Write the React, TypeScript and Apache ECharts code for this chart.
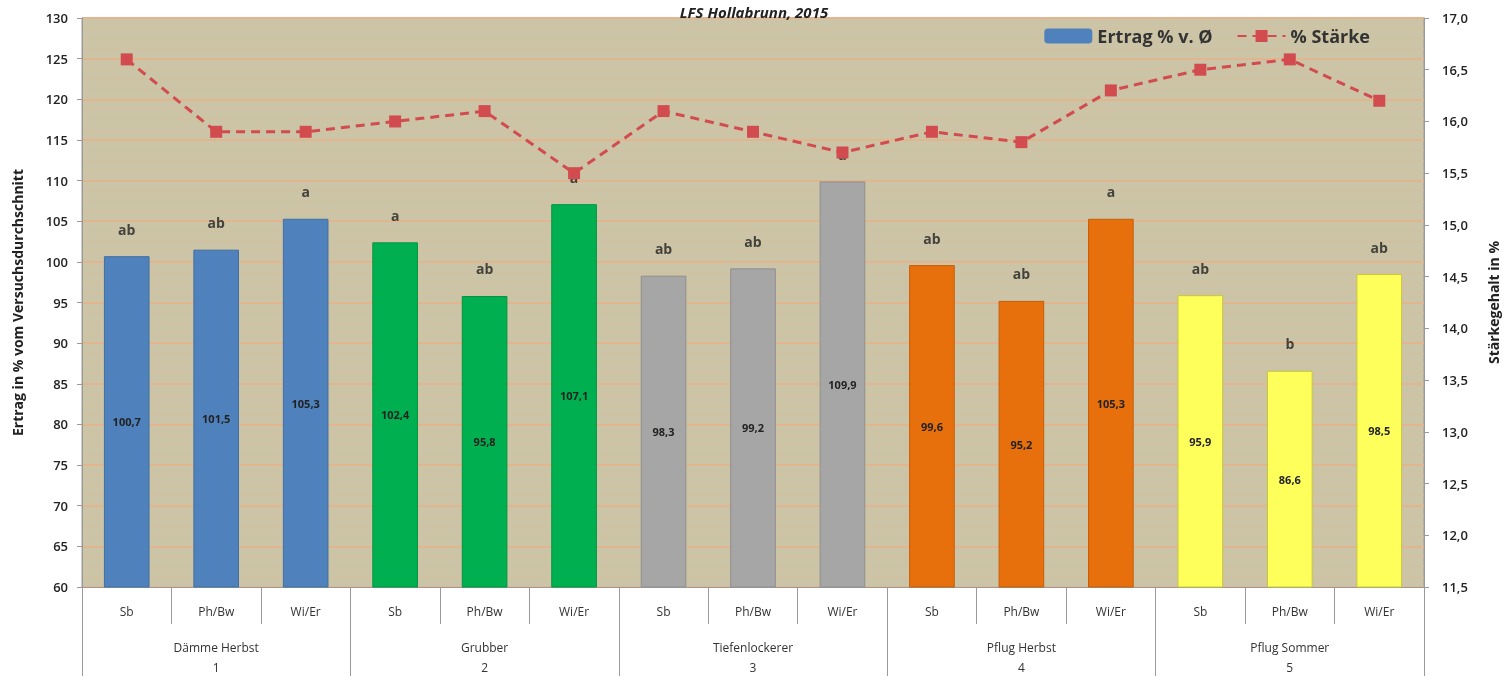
import React, { useEffect, useRef } from "react";
import * as echarts from "echarts";

const subCategories = ["Sb", "Ph/Bw", "Wi/Er", "Sb", "Ph/Bw", "Wi/Er", "Sb", "Ph/Bw", "Wi/Er", "Sb", "Ph/Bw", "Wi/Er", "Sb", "Ph/Bw", "Wi/Er"];
const groups = ["Dämme Herbst\n1", "Grubber\n2", "Tiefenlockerer\n3", "Pflug Herbst\n4", "Pflug Sommer\n5"];
const ertrag = [100.7, 101.5, 105.3, 102.4, 95.8, 107.1, 98.3, 99.2, 109.9, 99.6, 95.2, 105.3, 95.9, 86.6, 98.5];
const staerke = [16.6, 15.9, 15.9, 16.0, 16.1, 15.5, 16.1, 15.9, 15.7, 15.9, 15.8, 16.3, 16.5, 16.6, 16.2];
const letters = ["ab", "ab", "a", "a", "ab", "a", "ab", "ab", "a", "ab", "ab", "a", "ab", "b", "ab"];
const groupColors = ["#4f81bd", "#00b050", "#a6a6a6", "#e8700c", "#ffff5c"];
const groupBorders = ["#41709f", "#00953f", "#8f8f8f", "#c55e08", "#c8c83a"];

const fmt = (v: number) => v.toFixed(1).replace(".", ",");

export default function App() {
  const ref = useRef<HTMLDivElement>(null);
  useEffect(() => {
    document.body.style.margin = "0";
    const chart = echarts.init(ref.current!, null, { renderer: "svg" });
    const font = "Open Sans";
    chart.setOption({
      animation: false,
      textStyle: { fontFamily: font },
      title: {
        text: "LFS Hollabrunn, 2015",
        left: "center",
        top: -1,
        textStyle: { fontSize: 15, fontStyle: "italic", fontWeight: "bold", color: "#222", fontFamily: font },
      },
      legend: {
        right: 133,
        top: 22,
        itemGap: 24,
        itemWidth: 48,
        itemHeight: 15,
        textStyle: { fontSize: 18, fontWeight: "bold", color: "#333", fontFamily: font },
        data: [
          { name: "Ertrag % v. Ø", itemStyle: { color: "#4f81bd" } },
          { name: "% Stärke" },
        ],
      },
      grid: {
        left: 82,
        right: 81,
        top: 18,
        bottom: 89,
        show: true,
        backgroundColor: "#cbc4a6",
        borderColor: "#9a9a9a",
        borderWidth: 1,
      },
      xAxis: [
        {
          type: "category",
          data: subCategories,
          position: "bottom",
          axisLine: { show: true, lineStyle: { color: "#9a9a9a" } },
          axisTick: { show: true, interval: 0, length: 37, lineStyle: { color: "#9a9a9a" } },
          axisLabel: { fontSize: 12, color: "#333", margin: 18, interval: 0 },
        },
        {
          type: "category",
          data: groups,
          position: "bottom",
          axisLine: { show: true, lineStyle: { color: "#9a9a9a" } },
          axisTick: { show: true, interval: 0, length: 89, lineStyle: { color: "#9a9a9a" } },
          axisLabel: { fontSize: 12, color: "#333", margin: 50, lineHeight: 20, interval: 0 },
        },
      ],
      yAxis: [
        {
          type: "value",
          min: 60,
          max: 130,
          interval: 5,
          name: "Ertrag in % vom Versuchsdurchschnitt",
          nameLocation: "middle",
          nameRotate: 90,
          nameGap: 58,
          nameTextStyle: { fontSize: 14, fontWeight: "bold", color: "#222" },
          axisLine: { show: true, lineStyle: { color: "#9a9a9a" } },
          axisTick: { show: true, length: 5, lineStyle: { color: "#9a9a9a" } },
          axisLabel: { fontSize: 13, fontWeight: 600, color: "#222", margin: 14 },
          splitLine: { show: true, lineStyle: { color: "#e3b58e", width: 2 } },
          minorTick: { show: false, splitNumber: 4 },
          minorSplitLine: { show: true, lineStyle: { color: "#d6bf9d", width: 1 } },
        },
        {
          type: "value",
          min: 11.5,
          max: 17,
          interval: 0.5,
          name: "Stärkegehalt in %",
          nameLocation: "middle",
          nameRotate: 90,
          nameGap: 62,
          nameTextStyle: { fontSize: 14, fontWeight: "bold", color: "#222" },
          axisLine: { show: true, lineStyle: { color: "#9a9a9a" } },
          axisTick: { show: true, length: 5, lineStyle: { color: "#9a9a9a" } },
          axisLabel: { fontSize: 13, fontWeight: 600, color: "#222", margin: 18, formatter: (v: number) => fmt(v) },
          splitLine: { show: false },
        },
      ],
      series: [
        {
          name: "Ertrag % v. Ø",
          type: "bar",
          xAxisIndex: 0,
          yAxisIndex: 0,
          barWidth: "51%",
          data: ertrag.map((v, i) => ({
            value: v,
            itemStyle: {
              color: groupColors[Math.floor(i / 3)],
              borderColor: groupBorders[Math.floor(i / 3)],
              borderWidth: 1,
            },
          })),
          label: {
            show: true,
            position: "inside",
            fontSize: 11,
            fontWeight: "bold",
            color: "#222",
            formatter: (p: any) => fmt(p.value),
          },
          z: 2,
        },
        {
          name: "letters",
          type: "scatter",
          xAxisIndex: 0,
          yAxisIndex: 0,
          symbolSize: 0,
          data: ertrag.map((v, i) => [i, v]),
          label: {
            show: true,
            position: "top",
            distance: 20,
            fontSize: 14,
            fontWeight: "bold",
            color: "#222",
            formatter: (p: any) => letters[p.dataIndex],
          },
          tooltip: { show: false },
          z: 3,
        },
        {
          name: "% Stärke",
          type: "line",
          xAxisIndex: 0,
          yAxisIndex: 1,
          data: staerke,
          symbol: "rect",
          symbolSize: 12,
          itemStyle: { color: "#d24c4f" },
          lineStyle: { color: "#d24c4f", width: 3, type: [9, 6] },
          z: 4,
        },
      ],
    });
    return () => chart.dispose();
  }, []);
  return <div ref={ref} style={{ position: "fixed", left: 0, top: 0, width: 1508, height: 677 }} />;
}
